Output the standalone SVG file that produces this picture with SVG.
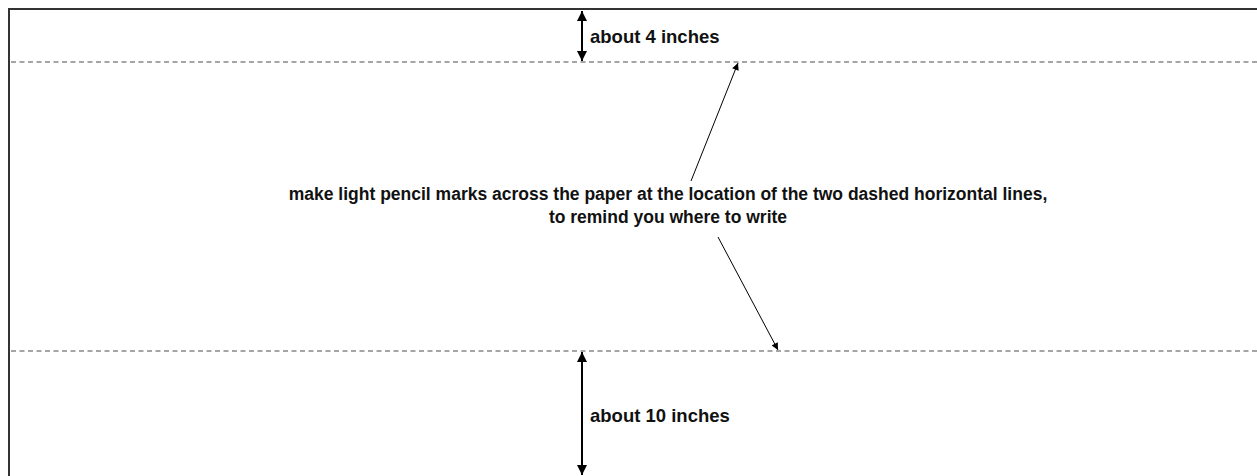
<svg xmlns="http://www.w3.org/2000/svg" width="1257" height="476" viewBox="0 0 1257 476">
  <style>
    .frame { fill: none; stroke: #333; stroke-width: 2; }
    .dash { fill: none; stroke: #888; stroke-width: 1.5; stroke-dasharray: 5 3.5; }
    .dim { fill: none; stroke: #000; stroke-width: 2; }
    .ptr { fill: none; stroke: #000; stroke-width: 1; }
    .lbl { font-family: "Liberation Sans", Arial, sans-serif; font-weight: bold; font-size: 18.5px; fill: #111; }
    .main { font-family: "Liberation Sans", Arial, sans-serif; font-weight: bold; font-size: 17.5px; fill: #111; text-anchor: middle; }
  </style>
  <defs>
    <marker id="dimHead" viewBox="0 0 10 10" refX="10" refY="5" markerWidth="5" markerHeight="5" markerUnits="strokeWidth" orient="auto-start-reverse">
      <path d="M0,0 L10,5 L0,10 z" fill="#000"/>
    </marker>
    <marker id="ptrHead" viewBox="0 0 10 10" refX="10" refY="5" markerWidth="8" markerHeight="7" markerUnits="strokeWidth" orient="auto">
      <path d="M0,0 L10,5 L0,10 z" fill="#000"/>
    </marker>
  </defs>
  <rect width="1257" height="476" fill="#fff"/>
  <g id="page">
    <path class="frame" d="M9,476 L9,9 L1257,9"/>
    <line class="dash" x1="11" y1="62" x2="1257" y2="62"/>
    <line class="dash" x1="11" y1="351" x2="1257" y2="351"/>
  </g>
  <g id="connectors">
    <line class="dim" x1="582" y1="11" x2="582" y2="61" marker-start="url(#dimHead)" marker-end="url(#dimHead)"/>
    <line class="dim" x1="582" y1="352" x2="582" y2="475" marker-start="url(#dimHead)" marker-end="url(#dimHead)"/>
    <line class="ptr" x1="691" y1="181" x2="738" y2="63" marker-end="url(#ptrHead)"/>
    <line class="ptr" x1="718" y1="237" x2="778" y2="350" marker-end="url(#ptrHead)"/>
  </g>
  <g id="label-top">
    <text class="lbl" x="590" y="43">about 4 inches</text>
  </g>
  <g id="label-bottom">
    <text class="lbl" x="590" y="421.5">about 10 inches</text>
  </g>
  <g id="instruction">
    <text class="main" x="668" y="200">make light pencil marks across the paper at the location of the two dashed horizontal lines,</text>
    <text class="main" x="668" y="223">to remind you where to write</text>
  </g>
</svg>
